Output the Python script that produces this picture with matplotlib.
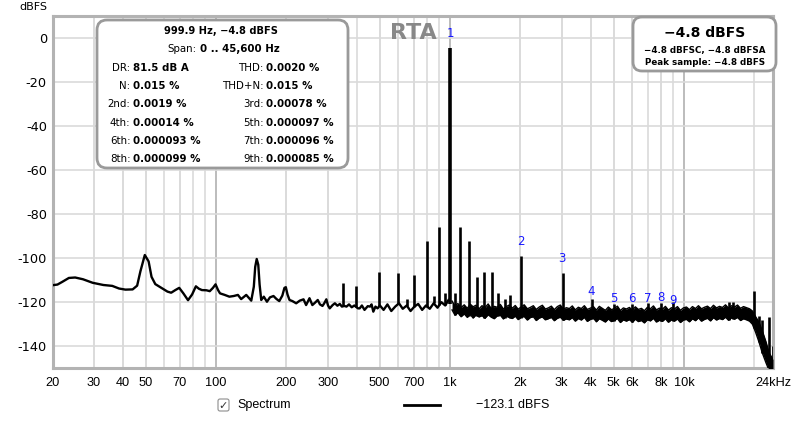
#!/usr/bin/env python
# coding: utf-8

"""
RTA spectrum view (1 kHz tone, -4.8 dBFS) redrawn with matplotlib.
"""

import numpy as np
import matplotlib
import matplotlib.pyplot as plt
from matplotlib.patches import FancyBboxPatch
from matplotlib.lines import Line2D
from matplotlib.ticker import NullFormatter

matplotlib.use('Agg')
plt.rcParams['axes.unicode_minus'] = False

# ---- Data ----
# smooth / single-line part of the trace, 20 Hz .. 1 kHz
low_f = [20, 21, 22, 23.5, 25, 27, 29.7, 33, 36, 38.5, 41, 44, 46, 47.5, 49.6,
         51.5, 53, 55, 58.8, 62, 64.3, 67, 69.6, 72.5, 75.9, 79, 82, 84.5, 87,
         91, 94, 97, 99.5, 102, 104, 108.9, 114, 119, 124, 128, 134.6, 141.4,
         145, 147, 149.2, 151.5, 153.5, 156, 160, 165, 170, 176, 181, 186.3,
         192, 196, 198.7, 202, 206, 212, 220, 228, 236.5, 242.6, 250.8, 258,
         265, 272, 278, 285, 290, 296, 301, 306, 315, 322, 330, 338, 345, 353,
         361, 370, 380, 390, 404, 411, 420, 431, 445, 455, 462, 470, 480, 490,
         501.6, 520, 540, 561, 583, 605, 628, 653, 678, 704, 731, 760, 789,
         819, 851, 884, 918, 954, 985]
low_db = [-112.3, -112.0, -110.8, -109.0, -108.8, -109.6, -111.2, -112.2,
          -112.6, -113.8, -114.3, -114.2, -112.5, -106.0, -98.6, -101.5,
          -108.5, -111.8, -113.7, -115.2, -115.7, -114.5, -113.5, -116.0,
          -119.1, -116.5, -112.8, -113.9, -114.5, -114.6, -115.0, -113.5,
          -111.9, -114.5, -116.0, -116.7, -117.5, -117.2, -116.7, -118.6,
          -116.7, -119.3, -113.0, -104.0, -100.4, -103.0, -112.0, -119.0,
          -117.5, -119.8, -117.8, -117.2, -118.5, -119.5, -117.0, -113.5,
          -113.2, -116.5, -119.0, -119.5, -120.5, -119.3, -118.7, -121.3,
          -118.2, -121.3, -120.2, -119.0, -121.0, -121.7, -120.5, -118.7,
          -121.5, -122.8, -121.3, -120.5, -121.6, -120.8, -122.0, -121.7,
          -122.0, -121.0, -122.3, -121.5, -122.8, -122.8, -121.5, -123.5,
          -121.8, -122.0, -121.0, -124.3, -122.0, -122.8,
          -121.5, -123.5, -121.0, -124.0, -122.0, -120.5, -123.0, -121.5,
          -124.0, -122.0, -120.8, -123.5, -121.5, -123.0, -120.5, -122.5,
          -120.0, -121.5, -119.0]

# dense noise band above 1 kHz (upper / lower edge)
band_f = [1020, 1050, 1080, 1115, 1150, 1185, 1220, 1255, 1290, 1330,
          1370, 1410, 1455, 1500, 1545, 1590, 1640, 1690, 1740, 1790,
          1845, 1900, 1955, 2015, 2075, 2140, 2200, 2270, 2335, 2405,
          2480, 2555, 2630, 2710, 2790, 2875, 2960, 3050, 3140, 3235,
          3330, 3430, 3535, 3640, 3750, 3860, 3980, 4100, 4220, 4345,
          4475, 4610, 4750, 4890, 5040, 5190, 5345, 5505, 5670, 5840,
          6015, 6195, 6380, 6575, 6770, 6975, 7180, 7400, 7620, 7850,
          8085, 8325, 8575, 8835, 9100, 9370, 9650, 9940, 10240, 10550,
          10865, 11190, 11525, 11870, 12230, 12595, 12975, 13360, 13765, 14175,
          14600, 15040, 15490, 15955, 16435, 16925, 17435, 17955, 18495, 19050,
          19600, 20200, 20900, 21600, 22400, 23100, 24000]
band_hi = [-119.5, -121.8, -120.6, -122.4, -121.2, -122.8, -120.9, -122.1, -121.4, -123.0,
           -121.6, -122.5, -120.8, -122.9, -121.9, -122.3, -121.0, -123.1, -122.0, -121.3,
           -122.7, -121.5, -123.2, -122.1, -121.2, -123.0, -122.4, -121.6, -123.3, -122.2,
           -121.4, -123.1, -122.6, -121.8, -123.4, -122.0, -121.3, -123.2, -122.5, -122.9,
           -121.7, -123.5, -122.3, -122.9, -121.6, -123.3, -122.7, -122.0, -123.6, -121.9,
           -122.8, -123.7, -122.2, -123.4, -122.9, -121.8, -123.8, -122.6, -123.1, -122.4,
           -123.6, -122.1, -123.3, -122.8, -123.9, -122.3, -123.0, -121.7, -123.5, -122.7,
           -123.2, -121.9, -123.6, -122.5, -123.1, -122.0, -123.7, -122.6, -122.2, -123.4,
           -122.0, -122.9, -121.6, -123.0, -122.3, -121.8, -122.9, -121.4, -122.6, -121.9,
           -122.4, -121.2, -122.7, -121.6, -122.2, -121.3, -122.8, -122.0, -122.5, -123.0,
           -124.0, -126.5, -129.0, -133.0, -138.0, -143.0, -146.0]
band_lo = [-123.5, -125.9, -124.8, -126.6, -125.3, -126.9, -125.5, -127.2, -125.8, -126.7,
           -126.1, -127.3, -125.7, -126.8, -127.5, -126.2, -125.9, -127.6, -126.4, -126.9,
           -127.4, -126.3, -127.9, -126.8, -126.5, -128.1, -127.0, -126.6, -128.3, -127.2,
           -126.7, -128.0, -127.5, -126.9, -128.4, -127.3, -126.8, -128.2, -127.6, -128.0,
           -127.0, -128.6, -127.4, -128.1, -126.9, -128.7, -127.8, -127.2, -128.9, -127.5,
           -128.2, -129.0, -127.6, -128.8, -128.3, -127.4, -129.2, -128.0, -128.6, -127.9,
           -129.1, -127.7, -128.8, -128.3, -129.4, -127.9, -128.5, -127.3, -129.0, -128.2,
           -128.7, -127.5, -129.1, -128.0, -128.6, -127.6, -129.2, -128.1, -127.8, -128.9,
           -127.5, -128.4, -127.1, -128.6, -127.8, -127.3, -128.5, -127.0, -128.1, -127.4,
           -127.9, -126.8, -128.2, -127.1, -127.7, -126.9, -128.3, -127.5, -128.0, -128.6,
           -130.0, -133.5, -138.0, -143.0, -147.5, -151.0, -151.0]

# narrow spectral lines (tone, harmonics, mains and spurs)
spike_f = [349, 398, 498, 600, 652, 701, 800, 850, 900, 952, 1000, 1050, 1104,
           1202, 1301, 1403, 1508, 1605, 1716, 1808, 2006, 3030, 4048, 5000,
           6000, 7000, 8000, 9000, 15500, 16200, 19900, 20900, 21600, 23100,
           24000]
spike_db = [-111.4, -112.7, -106.2, -106.9, -118.7, -107.7, -92.3, -117.0,
            -86.0, -115.7, -4.8, -116.0, -86.0, -92.1, -108.4, -106.2, -106.2,
            -116.0, -118.7, -116.7, -99.0, -106.9, -118.7, -121.0, -121.0,
            -120.5, -120.5, -120.0, -119.8, -120.0, -114.8, -126.3, -128.0,
            -126.6, -139.9]

harm_f = [1000, 2000, 3000, 4000, 5000, 6000, 7000, 8000, 9000]
harm_db = [-4.8, -99.2, -107.0, -121.9, -125.1, -125.4, -125.2, -124.9, -126.2]
harm_labels = ['1', '2', '3', '4', '5', '6', '7', '8', '9']

tick_f = [20, 30, 40, 50, 70, 100, 200, 300, 500, 700, 1000, 2000, 3000,
          4000, 5000, 6000, 8000, 10000, 24000]
tick_labels = ['20', '30', '40', '50', '70', '100', '200', '300', '500', '700',
               '1k', '2k', '3k', '4k', '5k', '6k', '8k', '10k', '24kHz']
grid_f = [20, 30, 40, 50, 60, 70, 80, 90, 200, 300, 400, 500, 600, 700, 800,
          900, 2000, 3000, 4000, 5000, 6000, 7000, 8000, 9000, 20000]
decade_f = [100, 1000, 10000]
db_ticks = [0, -20, -40, -60, -80, -100, -120, -140]

header_line = '999.9 Hz, \u22124.8 dBFS'
span_label, span_value = 'Span:', '0 .. 45,600 Hz'
left_labels = ['DR:', 'N:', '2nd:', '4th:', '6th:', '8th:']
left_values = ['81.5 dB A', '0.015 %', '0.0019 %', '0.00014 %', '0.000093 %',
               '0.000099 %']
right_labels = ['THD:', 'THD+N:', '3rd:', '5th:', '7th:', '9th:']
right_values = ['0.0020 %', '0.015 %', '0.00078 %', '0.000097 %',
                '0.000096 %', '0.000085 %']
level_lines = ['\u22124.8 dBFS', '\u22124.8 dBFSC, \u22124.8 dBFSA',
               'Peak sample: \u22124.8 dBFS']
cursor_text = '\u2212123.1 dBFS'

NARROW = ['Liberation Sans', 'DejaVu Sans']

# ---- Figure ----
W, H = 800, 421
fig = plt.figure(figsize=(W / 100, H / 100), dpi=100)
fig.patch.set_facecolor('white')

ax = fig.add_axes([52.5 / W, 1 - 368.3 / H, 720.5 / W, 352.6 / H])
ax.set_xscale('log')
ax.set_xlim(20, 24000)
ax.set_ylim(-150, 10)

ax.set_xticks(tick_f, tick_labels)
ax.set_xticks(grid_f, minor=True)
ax.xaxis.set_minor_formatter(NullFormatter())
ax.set_yticks(db_ticks)
ax.tick_params(which='both', length=0)
ax.tick_params(axis='x', pad=6, labelsize=9.2)
ax.tick_params(axis='y', pad=4, labelsize=9.3)
for lbl in ax.get_xticklabels():
    lbl.set_family(NARROW)

ax.grid(False)
for f in grid_f + tick_f:
    ax.axvline(f, color='#dadada', lw=1.2, zorder=0)
for f in decade_f:
    ax.axvline(f, color='#bdbdbd', lw=1.4, zorder=0)
for d in db_ticks:
    ax.axhline(d, color='#dadada', lw=1.2, zorder=0)

for sp in ax.spines.values():
    sp.set_color('#b3b3b3')
    sp.set_linewidth(2.2)

# trace
ax.plot(low_f, low_db, color='black', lw=1.7, zorder=3)
ax.fill_between(band_f, band_lo, band_hi, color='black', lw=0, zorder=3)
ax.plot(band_f, band_hi, color='black', lw=1.0, zorder=3)
ax.plot(band_f, band_lo, color='black', lw=1.0, zorder=3)

all_f = np.log10(low_f + band_f)
all_floor = np.array(low_db + band_lo)
spike_base = np.interp(np.log10(spike_f), all_f, all_floor)
spike_w = [2.6 if f == 1000 else 1.9 for f in spike_f]
ax.vlines(spike_f, spike_base, spike_db, color='black', lw=spike_w, zorder=3)

for f, d, t in zip(harm_f, harm_db, harm_labels):
    ax.text(f, d + 4, t, color='#1a1aff', fontsize=8.5, ha='center',
            va='bottom', zorder=4)

# ---- Overlay in pixel units for the panels and legend ----
ov = fig.add_axes([0, 0, 1, 1], zorder=5)
ov.set_xlim(0, W)
ov.set_ylim(H, 0)
ov.axis('off')

ov.text(33, 7, 'dBFS', fontsize=8, ha='center', va='center')
ov.text(413, 33, 'RTA', fontsize=16, fontweight='bold', color='#888888',
        ha='center', va='center')

box1 = FancyBboxPatch((97, 20), 251, 148, boxstyle='round,pad=0,rounding_size=10',
                      facecolor='white', edgecolor='#9a9a9a', lw=2)
ov.add_patch(box1)
fs = 7.4
ov.text(221, 31, header_line, fontsize=7.1, fontweight='bold', ha='center',
        va='center')
ov.text(197, 49.3, span_label, fontsize=fs, ha='right', va='center')
ov.text(199.5, 49.3, span_value, fontsize=fs, fontweight='bold', ha='left',
        va='center')
for i in range(len(left_labels)):
    y = 68.3 + i * 18.08
    ov.text(130.5, y, left_labels[i], fontsize=fs, ha='right', va='center')
    ov.text(133, y, left_values[i], fontsize=fs, fontweight='bold', ha='left',
            va='center')
    ov.text(263.5, y, right_labels[i], fontsize=fs, ha='right', va='center')
    ov.text(266, y, right_values[i], fontsize=fs, fontweight='bold', ha='left',
            va='center')

box2 = FancyBboxPatch((633, 17), 143, 54, boxstyle='round,pad=0,rounding_size=9',
                      facecolor='white', edgecolor='#9a9a9a', lw=2)
ov.add_patch(box2)
ov.text(705, 33, level_lines[0], fontsize=10, fontweight='bold', ha='center',
        va='center')
ov.text(705, 50.5, level_lines[1], fontsize=6.3, fontweight='bold',
        ha='center', va='center')
ov.text(705, 62.5, level_lines[2], fontsize=6.3, fontweight='bold',
        ha='center', va='center')

# legend row
chk = FancyBboxPatch((218, 399), 11, 12, boxstyle='round,pad=0,rounding_size=2',
                     facecolor='white', edgecolor='#8c8c8c', lw=0.8)
ov.add_patch(chk)
ov.text(223.5, 405.5, '\u2713', fontsize=8, ha='center', va='center',
        color='#333333')
ov.text(237, 405, 'Spectrum', fontsize=9, family=NARROW, ha='left',
        va='center')
ov.add_line(Line2D([403.6, 440], [405, 405], color='black', lw=2))
ov.text(476, 405, cursor_text, fontsize=9, family=NARROW, ha='left',
        va='center')

fig.savefig('out.png', dpi=100)
